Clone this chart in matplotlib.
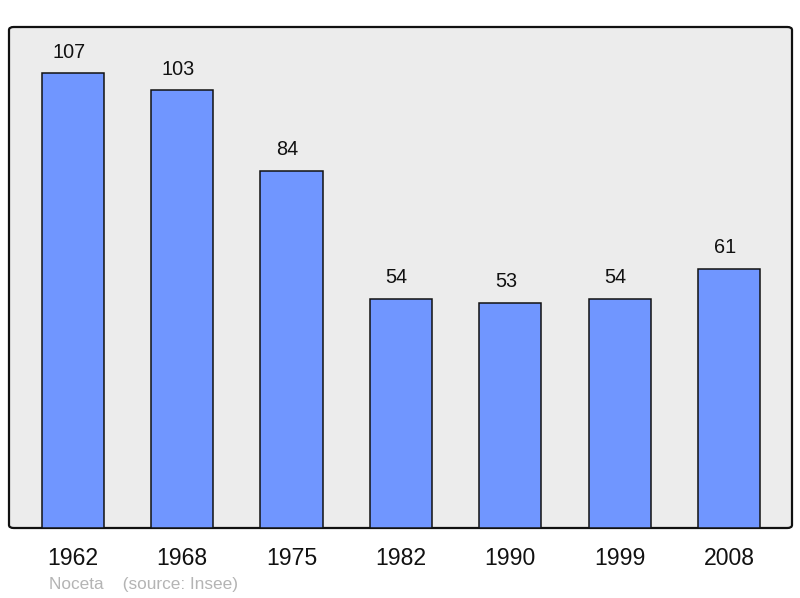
import numpy as np
import matplotlib.pyplot as plt
from matplotlib.patches import FancyBboxPatch

years = ['1962', '1968', '1975', '1982', '1990', '1999', '2008']
population = [107, 103, 84, 54, 53, 54, 61]

plt.rcParams['font.family'] = ['Liberation Sans', 'DejaVu Sans']

fig = plt.figure(figsize=(8, 5.98), dpi=100)
ax = fig.add_axes([9 / 800, 1 - 528 / 598, 783 / 800, 501 / 598])
ax.set_facecolor('none')

# rounded frame behind the bars
frame = FancyBboxPatch((0, 0), 1, 1, boxstyle='round,pad=0,rounding_size=0.006',
                       transform=ax.transAxes, facecolor='#ececec',
                       edgecolor='#111111', linewidth=1.6, zorder=0, clip_on=False)
ax.add_patch(frame)

x = np.arange(len(years))
bars = ax.bar(x, population, width=0.57, color='#7096ff', edgecolor='#111111',
              linewidth=1.1, zorder=2)
for xi, v in zip(x, population):
    ax.text(xi - 0.04, v + 5.0, str(v), ha='center', va='center', fontsize=14.3,
            color='#111111')

ax.set_xlim(-0.585, 6.576)
ax.set_ylim(0, 117.9)
ax.set_xticks(x)
ax.set_xticklabels(years, fontsize=16.6, color='#111111')
ax.set_yticks([])
ax.tick_params(axis='x', length=0, pad=14)
for s in ax.spines.values():
    s.set_visible(False)

fig.text(49 / 800, 1 - 584 / 598, 'Noceta    (source: Insee)', fontsize=12.4,
         color='#b4b4b4', va='center', ha='left')

fig.savefig('out.png', dpi=100)
